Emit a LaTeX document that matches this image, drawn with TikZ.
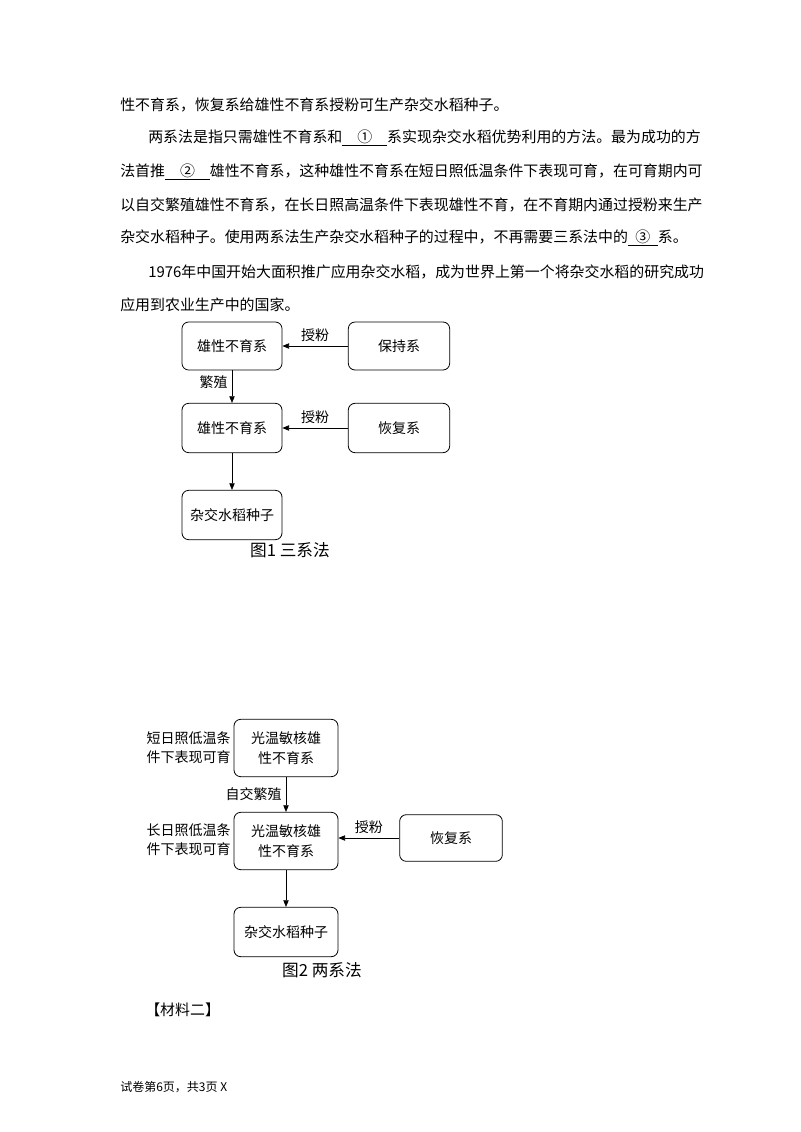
\documentclass[tikz,border=0pt]{standalone}
\usepackage{fontspec}
\setmainfont{Noto Sans CJK SC}
\usetikzlibrary{arrows.meta}
\begin{document}
\begin{tikzpicture}[x=0.75pt,y=-0.75pt,
  bx/.style={draw,rounded corners=5pt,line width=0.6pt,inner sep=0pt,align=center,font=\fontsize{10.5}{15}\selectfont},
  tx/.style={anchor=west,inner sep=0pt,font=\fontsize{11.2}{13}\selectfont},
  lb/.style={inner sep=0pt,font=\fontsize{10.5}{14}\selectfont},
  cp/.style={inner sep=0pt,font=\fontsize{12.5}{14}\selectfont},
  ar/.style={-{Triangle[length=5pt,width=4pt]},line width=0.5pt}]
\path[use as bounding box] (0,0) rectangle (800,1132);
\newcommand{\blk}[1]{\underline{\makebox[3em]{#1}}}
\node[tx] (t1) at (120,105) {性不育系，恢复系给雄性不育系授粉可生产杂交水稻种子。};
\node[tx] (t2) at (148,138) {两系法是指只需雄性不育系和\blk{①}系实现杂交水稻优势利用的方法。最为成功的方};
\node[tx] (t3) at (120,172) {法首推\blk{②}雄性不育系，这种雄性不育系在短日照低温条件下表现可育，在可育期内可};
\node[tx] (t4) at (120,205) {以自交繁殖雄性不育系，在长日照高温条件下表现雄性不育，在不育期内通过授粉来生产};
\node[tx] (t5) at (120,238) {杂交水稻种子。使用两系法生产杂交水稻种子的过程中，不再需要三系法中的\underline{\makebox[2em]{③}}系。};
\node[tx] (t6) at (148,272) {1976年中国开始大面积推广应用杂交水稻，成为世界上第一个将杂交水稻的研究成功};
\node[tx] (t7) at (120,305) {应用到农业生产中的国家。};
% Fig 1
\node[bx,minimum width=75pt,minimum height=36pt] (a1) at (232,346) {雄性不育系};
\node[bx,minimum width=76pt,minimum height=36pt] (b1) at (399,346) {保持系};
\node[bx,minimum width=75pt,minimum height=37pt] (a2) at (232,428) {雄性不育系};
\node[bx,minimum width=76pt,minimum height=37pt] (b2) at (399,428) {恢复系};
\node[bx,minimum width=75pt,minimum height=37pt] (a3) at (232,515) {杂交水稻种子};
\node[cp] (c1) at (290,550) {图1\ 三系法};
\draw[ar] (b1) -- node[lb,above=3pt] {授粉} (a1);
\draw[ar] (b2) -- node[lb,above=3pt] {授粉} (a2);
\draw[ar] (a1) -- node[lb,left=3pt,pos=0.35] {繁殖} (a2);
\draw[ar] (a2) -- (a3);
% Fig 2
\node[bx,minimum width=78pt,minimum height=43pt] (p1) at (286,748) {光温敏核雄\\性不育系};
\node[bx,minimum width=78pt,minimum height=43pt] (p2) at (286,841) {光温敏核雄\\性不育系};
\node[bx,minimum width=77pt,minimum height=35pt] (r2) at (451,838) {恢复系};
\node[bx,minimum width=78pt,minimum height=37pt] (p3) at (286,932) {杂交水稻种子};
\node[cp] (c2) at (322,970) {图2\ 两系法};
\node[lb,anchor=east,align=right] (l1) at (231,748) {短日照低温条\\件下表现可育};
\node[lb,anchor=east,align=right] (l2) at (231,840) {长日照低温条\\件下表现可育};
\draw[ar] (p1) -- node[lb,left=3pt] {自交繁殖} (p2);
\draw[ar] (r2.west) -- node[lb,above=3pt] {授粉} (r2.west -| p2.east);
\draw[ar] (p2) -- (p3);
\node[tx] (m2) at (145,1010) {【材料二】};
\node[tx,font=\fontsize{9}{11}\selectfont] (ft) at (120,1087) {试卷第6页，共3页 X};
\end{tikzpicture}
\end{document}
